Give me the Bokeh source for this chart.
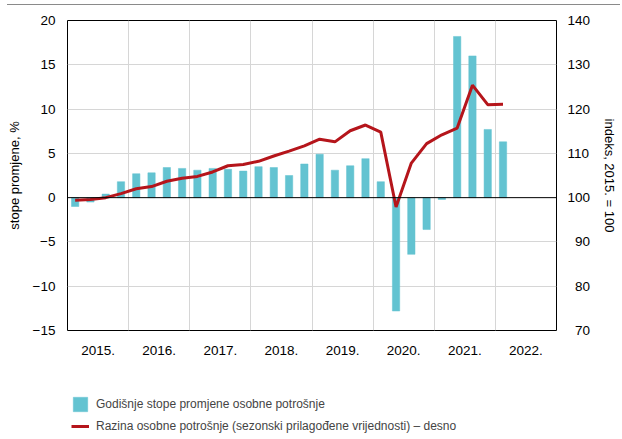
from bokeh.plotting import figure
from bokeh.layouts import column
from bokeh.models import (Range1d, LinearAxis, FixedTicker, CustomJSTickFormatter,
                          Span, Legend, LegendItem, ColumnDataSource, Div)
from bokeh.embed import file_html
from bokeh.resources import INLINE

FONT = "Liberation Sans"

quarters = ["2015Q1", "2015Q2", "2015Q3", "2015Q4",
            "2016Q1", "2016Q2", "2016Q3", "2016Q4",
            "2017Q1", "2017Q2", "2017Q3", "2017Q4",
            "2018Q1", "2018Q2", "2018Q3", "2018Q4",
            "2019Q1", "2019Q2", "2019Q3", "2019Q4",
            "2020Q1", "2020Q2", "2020Q3", "2020Q4",
            "2021Q1", "2021Q2", "2021Q3", "2021Q4",
            "2022Q1"]
annual_rate = [-1.0, -0.5, 0.4, 1.8,
               2.7, 2.8, 3.4, 3.3,
               3.1, 3.3, 3.2, 3.0,
               3.5, 3.4, 2.5, 3.8,
               4.9, 3.1, 3.6, 4.4,
               1.8, -12.8, -6.4, -3.6,
               -0.2, 18.2, 16.0, 7.7,
               6.3]
level_index = [99.4, 99.6, 100.0, 100.9,
               102.0, 102.5, 103.7, 104.4,
               104.8, 105.8, 107.2, 107.5,
               108.2, 109.4, 110.5, 111.7,
               113.2, 112.6, 115.1, 116.4,
               114.8, 97.9, 107.8, 112.2,
               114.2, 115.7, 125.4, 121.0,
               121.1]
years = [2015, 2016, 2017, 2018, 2019, 2020, 2021, 2022]
left_ticks = [-15, -10, -5, 0, 5, 10, 15, 20]
right_ticks = [70, 80, 90, 100, 110, 120, 130, 140]
legend_labels = ["Godišnje stope promjene osobne potrošnje",
                 "Razina osobne potrošnje (sezonski prilagođene vrijednosti) – desno"]

BAR_COLOR = "#63C3D1"
LINE_COLOR = "#B5151B"
W = 620


def qpos(q):
    return int(q[:4]) + (int(q[-1]) - 0.5) / 4.0


src = ColumnDataSource(dict(x=[qpos(q) for q in quarters],
                            rate=annual_rate, level=level_index))

# thin grey rule across the top of the graphic
top_rule = Div(text="", width=W - 7, height=5, margin=(0, 0, 0, 7),
               styles={"box-sizing": "border-box",
                       "border-bottom": "1px solid #8a8a8a"})

p = figure(width=W, height=358, x_range=Range1d(years[0], years[-1] + 1),
           y_range=Range1d(left_ticks[0], left_ticks[-1]),
           output_backend="svg", toolbar_location=None,
           min_border_left=67, min_border_right=W - 559, min_border_top=15,
           min_border_bottom=33)
p.extra_y_ranges = {"idx": Range1d(right_ticks[0], right_ticks[-1])}

p.outline_line_color = "black"
p.outline_line_width = 1
p.background_fill_color = "white"
p.border_fill_color = "white"

# grids
p.xgrid.ticker = FixedTicker(ticks=years[1:])
p.ygrid.ticker = FixedTicker(ticks=[t for t in left_ticks[1:-1] if t != 0])
p.grid.grid_line_color = "#d6d6d6"
p.grid.grid_line_width = 1

# bars and line
bars = p.vbar(x="x", top="rate", bottom=0, width=0.12, source=src,
              fill_color=BAR_COLOR, line_color=BAR_COLOR, line_width=0.5)
p.add_layout(Span(location=0, dimension="width", line_color="black", line_width=1))
line = p.line(x="x", y="level", source=src, y_range_name="idx",
              line_color=LINE_COLOR, line_width=3)

# axes
p.xaxis.ticker = FixedTicker(ticks=[y + 0.5 for y in years])
p.xaxis.formatter = CustomJSTickFormatter(code="return Math.floor(tick) + '.';")
p.yaxis.ticker = FixedTicker(ticks=left_ticks)
p.yaxis.formatter = CustomJSTickFormatter(
    code="return tick < 0 ? '\u2212' + Math.abs(tick) : String(tick);")
p.yaxis.axis_label = "stope promjene, %"

raxis = LinearAxis(y_range_name="idx", ticker=FixedTicker(ticks=right_ticks),
                   axis_label="indeks, 2015. = 100",
                   formatter=CustomJSTickFormatter(
                       code="return tick < 100 ? '\u2007' + tick : String(tick);"))
p.add_layout(raxis, "right")

for ax in [p.xaxis[0], p.yaxis[0], raxis]:
    ax.axis_line_color = None
    ax.major_tick_line_color = None
    ax.minor_tick_line_color = None
    ax.major_tick_out = 0
    ax.major_tick_in = 0
    ax.minor_tick_out = 0
    ax.minor_tick_in = 0
    ax.major_label_text_font = FONT
    ax.major_label_text_font_size = "13.5px"
    ax.major_label_text_color = "black"
    ax.axis_label_text_font = FONT
    ax.axis_label_text_font_size = "13px"
    ax.axis_label_text_font_style = "normal"
    ax.axis_label_text_color = "black"

p.xaxis.major_label_standoff = 15
p.yaxis.major_label_standoff = 12
p.yaxis.axis_label_standoff = 8
raxis.major_label_standoff = 11
raxis.axis_label_standoff = 9

# legend strip below the chart; its renderers share the data but lie outside
# this strip's ranges, so only the legend is visible
lg = figure(width=W, height=73,
            x_range=Range1d(years[-1] + 1, years[-1] + 2),
            y_range=Range1d(right_ticks[-1] * 2, right_ticks[-1] * 2 + 1),
            output_backend="svg", toolbar_location=None,
            x_axis_type=None, y_axis_type=None,
            min_border=0, min_border_left=0, min_border_right=0,
            min_border_top=0, min_border_bottom=0)
lg.outline_line_color = None
lg.background_fill_color = "white"
lg.border_fill_color = "white"
lg_bar = lg.vbar(x="x", top="rate", bottom=0, width=0.12, source=src,
                 fill_color=BAR_COLOR, line_color=BAR_COLOR, line_width=0.5)
lg_line = lg.line(x="x", y="level", source=src, line_color=LINE_COLOR, line_width=3)

legend = Legend(items=[
    LegendItem(label=legend_labels[0], renderers=[lg_bar]),
    LegendItem(label=legend_labels[1], renderers=[lg_line]),
], location=(4, 1), glyph_width=18, glyph_height=18, label_height=18,
    spacing=4, label_standoff=7, padding=0, margin=0,
    border_line_color=None, background_fill_alpha=0,
    label_text_font=FONT, label_text_font_size="12px")
lg.add_layout(legend, "center")

open("out.html", "w").write(file_html(column(top_rule, p, lg, spacing=0), INLINE))
